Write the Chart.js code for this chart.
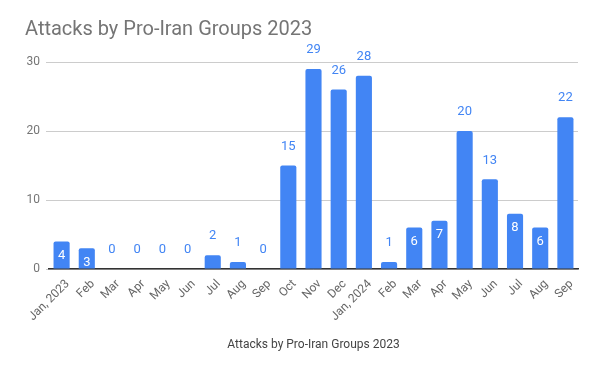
<!DOCTYPE html>
<html>
<head>
<meta charset="utf-8">
<script src="https://cdn.jsdelivr.net/npm/chart.js@4"></script>
<style>
  html, body { margin: 0; padding: 0; background: #fff; }
  #wrap { width: 600px; height: 371px; }
</style>
</head>
<body>
<div id="wrap"><canvas id="graphique" width="600" height="371"></canvas></div>
<script>
var months = ['Jan, 2023', 'Feb', 'Mar', 'Apr', 'May', 'Jun', 'Jul', 'Aug', 'Sep', 'Oct', 'Nov', 'Dec',
    'Jan, 2024', 'Feb', 'Mar', 'Apr', 'May', 'Jun', 'Jul', 'Aug', 'Sep']
var attacks = [4, 3, 0, 0, 0, 0, 2, 1, 0, 15, 29, 26, 28, 1, 6, 7, 20, 13, 8, 6, 22]
var yTicks = [0, 10, 20, 30]

var blue = '#4285F4'

// labels sit inside the bar for the mid-sized bars, above it otherwise (like the sheet does)
var barLabels = {
    id: 'barLabels',
    afterDatasetsDraw: function (chart) {
        var ctx = chart.ctx
        var meta = chart.getDatasetMeta(0)
        ctx.save()
        ctx.font = '13px Roboto'
        ctx.textAlign = 'center'
        ctx.textBaseline = 'middle'
        meta.data.forEach(function (bar, i) {
            var v = attacks[i]
            if (v >= 3 && v <= 9) {
                ctx.fillStyle = '#ffffff'
                ctx.fillText(String(v), bar.x, bar.y + 14)
            } else {
                ctx.fillStyle = blue
                ctx.fillText(String(v), bar.x, bar.y - 19)
            }
        })
        ctx.restore()
    }
}

var ctx = document.getElementById('graphique')
var chart = new Chart(ctx, {
    type: 'bar',
    data: {
        labels: months,
        datasets: [{
            data: attacks,
            backgroundColor: blue,
            borderRadius: 2,
            borderSkipped: 'bottom',
            categoryPercentage: 0.64,
            barPercentage: 1
        }]
    },
    options: {
        responsive: false,
        animation: false,
        layout: { padding: { left: 25, right: 22, top: 0, bottom: 0 } },
        plugins: {
            legend: { display: false },
            tooltip: { enabled: false },
            title: {
                display: true,
                text: 'Attacks by Pro-Iran Groups 2023',
                align: 'start',
                color: '#757575',
                font: { family: 'Roboto', size: 20, weight: 'normal' },
                padding: { top: 18, bottom: 20 }
            }
        },
        scales: {
            x: {
                grid: { display: false, drawTicks: false },
                border: { display: true, color: '#333333', width: 1.5 },
                ticks: {
                    color: '#666666',
                    font: { family: 'Roboto', size: 12 },
                    minRotation: 45,
                    maxRotation: 45,
                    autoSkip: false,
                    labelOffset: 6,
                    padding: 8
                },
                title: {
                    display: true,
                    text: 'Attacks by Pro-Iran Groups 2023',
                    color: '#444444',
                    font: { family: 'Roboto', size: 12 },
                    padding: { top: 0, bottom: 19 }
                },
                afterFit: function (scale) { scale.height = 102 }
            },
            y: {
                min: 0,
                max: 30,
                afterBuildTicks: function (scale) {
                    scale.ticks = yTicks.map(function (v) { return { value: v } })
                },
                grid: { color: '#cccccc', tickLength: 3, tickColor: '#cccccc' },
                border: { display: false },
                ticks: {
                    color: '#757575',
                    font: { family: 'Roboto', size: 12 },
                    padding: 6
                },
                afterFit: function (scale) { scale.width = 24 }
            }
        }
    },
    plugins: [barLabels]
})
</script>
</body>
</html>
